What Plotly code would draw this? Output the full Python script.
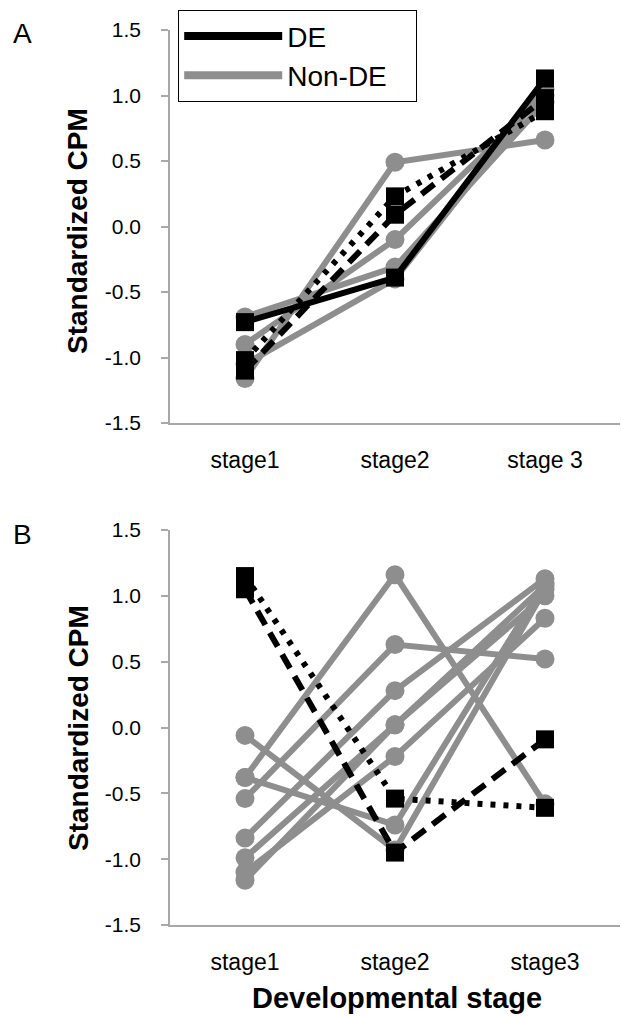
import plotly.graph_objects as go

# ---------------- data ----------------
stages_A = ["stage1", "stage2", "stage 3"]
stages_B = ["stage1", "stage2", "stage3"]

# Panel A
A_nonde = [
    [-1.16, 0.49, 0.66],
    [-0.90, -0.10, 1.00],
    [-0.69, -0.31, 0.95],
    [-1.05, -0.40, 1.05],
]
A_de_solid = [-0.73, -0.39, 1.13]
A_de_dash = [-1.10, 0.09, 0.98]
A_de_dot = [-1.02, 0.23, 0.88]

# Panel B
B_nonde = [
    [-0.38, 1.16, -0.58],
    [-0.38, -0.74, 1.10],
    [-0.06, -0.93, 1.05],
    [-0.54, 0.63, 0.52],
    [-0.84, 0.28, 1.13],
    [-0.99, 0.02, 1.00],
    [-1.10, -0.22, 0.83],
    [-1.16, 0.02, 1.08],
]
B_de_dot = [1.15, -0.54, -0.61]
B_de_dash = [1.05, -0.95, -0.09]

y_ticks = [-1.5, -1.0, -0.5, 0.0, 0.5, 1.0, 1.5]
y_tick_labels = ["-1.5", "-1.0", "-0.5", "0.0", "0.5", "1.0", "1.5"]

legend_names = ["DE", "Non-DE"]

# ---------------- style ----------------
W, H = 621, 1017
GREY = "#8e8e8e"
AXIS = "#a8a8a8"
FONT = "Liberation Sans"

fig = go.Figure()

def grey_line(x, y, xa, ya):
    fig.add_trace(go.Scatter(
        x=x, y=y, xaxis=xa, yaxis=ya, mode="lines+markers",
        line=dict(color=GREY, width=6),
        marker=dict(symbol="circle", size=19, color=GREY),
        showlegend=False, hoverinfo="skip"))

def black_line(x, y, xa, ya, dash):
    fig.add_trace(go.Scatter(
        x=x, y=y, xaxis=xa, yaxis=ya, mode="lines+markers",
        line=dict(color="black", width=6, dash=dash),
        marker=dict(symbol="square", size=18, color="black"),
        showlegend=False, hoverinfo="skip"))

for s in A_nonde:
    grey_line(stages_A, s, "x", "y")
black_line(stages_A, A_de_solid, "x", "y", "solid")
black_line(stages_A, A_de_dash, "x", "y", "16px,9px")
black_line(stages_A, A_de_dot, "x", "y", "5px,8px")

for s in B_nonde:
    grey_line(stages_B, s, "x2", "y2")
black_line(stages_B, B_de_dot, "x2", "y2", "5px,8px")
black_line(stages_B, B_de_dash, "x2", "y2", "16px,9px")

# legend entries (trailing non-breaking spaces widen the box like the reference)
PAD = "\u00a0" * 3
fig.add_trace(go.Scatter(x=[None], y=[None], mode="lines", name=legend_names[0] + PAD,
                         line=dict(color="black", width=8)))
fig.add_trace(go.Scatter(x=[None], y=[None], mode="lines", name=legend_names[1] + PAD,
                         line=dict(color=GREY, width=8)))

xdom = [170 / W, 620 / W]
yA = [1 - 423 / H, 1 - 30 / H]
yB = [1 - 925 / H, 1 - 530 / H]

xcommon = dict(type="category", range=[-0.5, 2.5], showline=True, linecolor=AXIS,
               linewidth=1.5, ticks="", showgrid=False, zeroline=False,
               tickfont=dict(family=FONT, size=23, color="black"),
               ticklabelstandoff=16, fixedrange=True)
ycommon = dict(range=[-1.5, 1.5], showline=True, linecolor=AXIS, linewidth=1.5,
               ticks="outside", ticklen=7, tickcolor=AXIS, tickwidth=1.5,
               tickvals=y_ticks, ticktext=y_tick_labels, showgrid=False,
               zeroline=False, tickfont=dict(family=FONT, size=21, color="black"),
               ticklabelstandoff=16, fixedrange=True)

fig.update_layout(
    width=W, height=H,
    margin=dict(l=0, r=0, t=0, b=0, autoexpand=False),
    paper_bgcolor="white", plot_bgcolor="white",
    xaxis=dict(domain=xdom, anchor="y", **xcommon),
    yaxis=dict(domain=yA, anchor="x", **ycommon),
    xaxis2=dict(domain=xdom, anchor="y2", **xcommon),
    yaxis2=dict(domain=yB, anchor="x2", **ycommon),
    showlegend=True,
    legend=dict(x=178 / W, y=1 - 10 / H, xanchor="left", yanchor="top",
                bordercolor="black", borderwidth=1.2, bgcolor="white",
                font=dict(family=FONT, size=28, color="black"),
                itemwidth=98, tracegroupgap=0),
    annotations=[
        dict(text="A", x=11 / W, y=1 - 34 / H, xref="paper", yref="paper",
             xanchor="left", yanchor="middle", showarrow=False,
             font=dict(family=FONT, size=28, color="black")),
        dict(text="B", x=11 / W, y=1 - 534 / H, xref="paper", yref="paper",
             xanchor="left", yanchor="middle", showarrow=False,
             font=dict(family=FONT, size=28, color="black")),
        dict(text="<b>Standardized CPM</b>", x=78 / W, y=1 - 231 / H,
             xref="paper", yref="paper", xanchor="center", yanchor="middle",
             textangle=-90, showarrow=False,
             font=dict(family=FONT, size=28, color="black")),
        dict(text="<b>Standardized CPM</b>", x=78 / W, y=1 - 728 / H,
             xref="paper", yref="paper", xanchor="center", yanchor="middle",
             textangle=-90, showarrow=False,
             font=dict(family=FONT, size=28, color="black")),
        dict(text="<b>Developmental stage</b>", x=397 / W, y=1 - 998 / H,
             xref="paper", yref="paper", xanchor="center", yanchor="middle",
             showarrow=False, font=dict(family=FONT, size=29, color="black")),
    ],
)

fig.write_html("out.html", config={"displayModeBar": False},
               post_script="document.body.style.margin='0';document.body.style.overflow='hidden';")
